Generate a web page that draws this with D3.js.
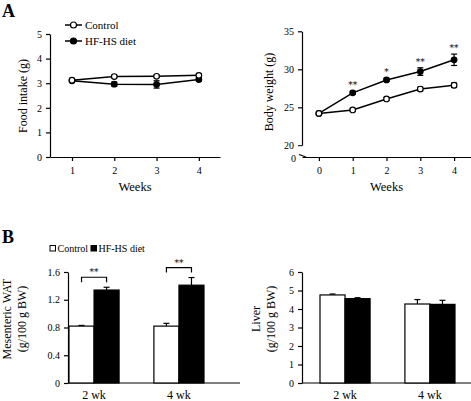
<!DOCTYPE html>
<html>
<head>
<meta charset="utf-8">
<script src="https://cdn.jsdelivr.net/npm/d3@7"></script>
<style>
  body { margin: 0; background: #fff; }
  svg { display: block; }
  svg text { font-family: "Liberation Serif", "Times New Roman", serif; fill: #000; }
  .tick text { font-size: 10px; }
  .axis path, .axis line { stroke: #000; stroke-width: 1.2; }
  svg text.star { font-family: "DejaVu Serif", serif; font-variant-emoji: text; fill: #000; }
</style>
</head>
<body>
<div class="chart"></div>
<script>
// Data
let foodWeeks = [1, 2, 3, 4];
let foodControl = [3.12, 3.27, 3.28, 3.32];
let foodControlErr = [0.06, 0.06, 0.05, 0.07];
let foodHF = [3.1, 2.96, 2.95, 3.15];
let foodHFErr = [0.06, 0.08, 0.15, 0.07];

let bwWeeks = [0, 1, 2, 3, 4];
let bwControl = [24.2, 24.65, 26.1, 27.4, 27.9];
let bwControlErr = [0.2, 0.2, 0.2, 0.25, 0.3];
let bwHF = [24.2, 26.9, 28.6, 29.7, 31.25];
let bwHFErr = [0.2, 0.2, 0.2, 0.5, 0.75];
let bwStars = ["", "**", "*", "**", "**"];

let barGroups = ["2 wk", "4 wk"];
let barSeries = ["Control", "HF-HS diet"];
let watValues = [[0.82, 1.34], [0.82, 1.41]];
let watErr = [[0.01, 0.04], [0.04, 0.11]];
let watStars = ["**", "**"];
let liverValues = [[4.76, 4.56], [4.27, 4.25]];
let liverErr = [[0.05, 0.05], [0.24, 0.22]];

let svgWidth = 471;
let svgHeight = 401;

let svg = d3.select(".chart")
    .append("svg")
    .attr("width", svgWidth)
    .attr("height", svgHeight)
    .attr("font-family", "Liberation Serif, serif");

// panel letters
svg.append("text").attr("x", 2).attr("y", 17)
    .style("font-size", "18px").style("font-weight", "bold").text("A");
svg.append("text").attr("x", 2).attr("y", 243)
    .style("font-size", "18px").style("font-weight", "bold").text("B");

// Draws one line panel with error bars
function linePanel(opts) {
    let g = svg.append("g");
    let x = d3.scaleLinear().domain(opts.xDomain).range(opts.xRange);
    let y = d3.scaleLinear().domain(opts.yDomain).range(opts.yRange);

    g.append("g")
        .attr("class", "axis")
        .attr("transform", `translate(0, ${opts.xAxisY})`)
        .call(d3.axisBottom(x).tickValues(opts.weeks).tickFormat(d3.format("d"))
            .tickSize(4).tickSizeOuter(0).tickPadding(6));

    g.append("g")
        .attr("class", "axis")
        .attr("transform", `translate(${opts.xRange[0]}, 0)`)
        .call(d3.axisLeft(y).tickValues(opts.yTicks).tickFormat(d3.format("d"))
            .tickSize(4).tickSizeOuter(0).tickPadding(4));

    let series = [
        { vals: opts.hf, err: opts.hfErr, fill: "#000" },
        { vals: opts.control, err: opts.controlErr, fill: "#fff" }
    ];

    series.forEach(function(s) {
        let pts = opts.weeks.map((w, i) => ({ w: w, v: s.vals[i], e: s.err[i] }));
        g.append("path")
            .datum(pts)
            .attr("fill", "none")
            .attr("stroke", "#000")
            .attr("stroke-width", 1.5)
            .attr("d", d3.line().x(d => x(d.w)).y(d => y(d.v)));

        let eb = g.append("g").selectAll("g").data(pts).enter().append("g")
            .attr("stroke", "#000").attr("stroke-width", 1.2);
        eb.append("line")
            .attr("x1", d => x(d.w)).attr("x2", d => x(d.w))
            .attr("y1", d => y(d.v - d.e)).attr("y2", d => y(d.v + d.e));
        eb.append("line")
            .attr("x1", d => x(d.w) - 3).attr("x2", d => x(d.w) + 3)
            .attr("y1", d => y(d.v - d.e)).attr("y2", d => y(d.v - d.e));
        eb.append("line")
            .attr("x1", d => x(d.w) - 3).attr("x2", d => x(d.w) + 3)
            .attr("y1", d => y(d.v + d.e)).attr("y2", d => y(d.v + d.e));

        g.append("g").selectAll("circle").data(pts).enter().append("circle")
            .attr("cx", d => x(d.w))
            .attr("cy", d => y(d.v))
            .attr("r", 2.8)
            .attr("fill", s.fill)
            .attr("stroke", "#000")
            .attr("stroke-width", 1.2);
    });

    g.append("text")
        .attr("x", (opts.xRange[0] + opts.xRange[1]) / 2)
        .attr("y", 191)
        .attr("text-anchor", "middle")
        .style("font-size", "12.5px")
        .text("Weeks");

    g.append("text")
        .attr("transform", `translate(${opts.labelX}, ${opts.labelY}) rotate(-90)`)
        .attr("text-anchor", "middle")
        .style("font-size", "12px")
        .text(opts.yLabel);

    return { g: g, x: x, y: y };
}

let food = linePanel({
    weeks: foodWeeks, control: foodControl, controlErr: foodControlErr,
    hf: foodHF, hfErr: foodHFErr,
    xDomain: [0.48, 4.5], xRange: [50, 220],
    yDomain: [0, 5], yRange: [157, 34], yTicks: [0, 1, 2, 3, 4, 5],
    xAxisY: 157, labelX: 27, labelY: 96, yLabel: "Food intake (g)"
});

// Legend for panel A
let legendA = svg.append("g");
barSeries.forEach(function(name, i) {
    let ly = 25 + i * 16;
    legendA.append("line")
        .attr("x1", 65).attr("x2", 82).attr("y1", ly).attr("y2", ly)
        .attr("stroke", "#000").attr("stroke-width", 1.5);
    legendA.append("circle")
        .attr("cx", 73.5).attr("cy", ly).attr("r", 3)
        .attr("fill", i === 0 ? "#fff" : "#000")
        .attr("stroke", "#000").attr("stroke-width", 1.2);
    legendA.append("text")
        .attr("x", 85).attr("y", ly + 4)
        .style("font-size", "11px")
        .text(name);
});

let bw = linePanel({
    weeks: bwWeeks, control: bwControl, controlErr: bwControlErr,
    hf: bwHF, hfErr: bwHFErr,
    xDomain: [-0.5, 4.5], xRange: [302, 471],
    yDomain: [20, 35], yRange: [145.3, 31.3], yTicks: [20, 25, 30, 35],
    xAxisY: 157, labelX: 273, labelY: 92, yLabel: "Body weight  (g)"
});

// hide the y axis segment between 20 and the x axis (axis break)
bw.g.append("rect").attr("x", 298).attr("y", 146.5).attr("width", 6).attr("height", 9.5).attr("fill", "#fff");
bw.g.append("line")
    .attr("x1", 299).attr("x2", 306).attr("y1", 154.5).attr("y2", 157)
    .attr("stroke", "#000").attr("stroke-width", 1.2);
bw.g.append("text")
    .attr("x", 296).attr("y", 162)
    .attr("text-anchor", "end")
    .style("font-size", "10px")
    .text("0");

// significance stars on body weight
bw.g.append("g").selectAll("text").data(bwWeeks).enter().append("text")
    .attr("class", "star")
    .attr("x", d => bw.x(d))
    .attr("y", (d, i) => bw.y(bwHF[i] + bwHFErr[i]) - 3)
    .attr("text-anchor", "middle")
    .style("font-size", "9px")
    .text((d, i) => bwStars[i]);

// Draws one bar panel
function barPanel(opts) {
    let g = svg.append("g");
    let x0 = d3.scaleBand().domain(barGroups).range(opts.barRange).paddingInner(0.41).paddingOuter(0);
    let x1 = d3.scaleBand().domain(barSeries).range([0, x0.bandwidth()]);
    let y = d3.scaleLinear().domain(opts.yDomain).range([383, 272]);

    g.append("g")
        .attr("class", "axis")
        .attr("transform", `translate(${opts.axisX}, 0)`)
        .call(d3.axisLeft(y).tickValues(opts.yTicks).tickFormat(opts.fmt).tickSize(4).tickSizeOuter(0).tickPadding(4));

    g.append("line")
        .attr("x1", opts.axisX).attr("x2", opts.axisEnd)
        .attr("y1", 383).attr("y2", 383)
        .attr("stroke", "#000").attr("stroke-width", 1.2);

    let cells = [];
    barGroups.forEach(function(grp, gi) {
        barSeries.forEach(function(s, si) {
            cells.push({ grp: grp, s: s, si: si, v: opts.values[gi][si], e: opts.err[gi][si] });
        });
    });

    // error bars (upper only)
    let eb = g.append("g").selectAll("g").data(cells).enter().append("g")
        .attr("stroke", "#000").attr("stroke-width", 1.2);
    eb.append("line")
        .attr("x1", d => x0(d.grp) + x1(d.s) + x1.bandwidth() / 2)
        .attr("x2", d => x0(d.grp) + x1(d.s) + x1.bandwidth() / 2)
        .attr("y1", d => y(d.v)).attr("y2", d => y(d.v + d.e));
    eb.append("line")
        .attr("x1", d => x0(d.grp) + x1(d.s) + x1.bandwidth() / 2 - 3)
        .attr("x2", d => x0(d.grp) + x1(d.s) + x1.bandwidth() / 2 + 3)
        .attr("y1", d => y(d.v + d.e)).attr("y2", d => y(d.v + d.e));

    g.append("g").selectAll("rect").data(cells).enter().append("rect")
        .attr("x", d => x0(d.grp) + x1(d.s))
        .attr("y", d => y(d.v))
        .attr("width", x1.bandwidth())
        .attr("height", d => 383 - y(d.v))
        .attr("fill", d => d.si === 0 ? "#fff" : "#000")
        .attr("stroke", "#000")
        .attr("stroke-width", 1.2);

    g.append("g").selectAll("text").data(barGroups).enter().append("text")
        .attr("x", d => x0(d) + x0.bandwidth() / 2)
        .attr("y", 399)
        .attr("text-anchor", "middle")
        .style("font-size", "12px")
        .text(d => d);

    let midY = 319;
    opts.yLabel.forEach(function(line, i) {
        g.append("text")
            .attr("transform", `translate(${opts.labelX + i * 15}, ${midY}) rotate(-90)`)
            .attr("text-anchor", "middle")
            .style("font-size", "12px")
            .text(line);
    });

    return { g: g, x0: x0, x1: x1, y: y };
}

let wat = barPanel({
    values: watValues, err: watErr,
    barRange: [69, 204], axisX: 68, axisEnd: 240,
    yDomain: [0, 1.6], yTicks: [0, 0.4, 0.8, 1.2, 1.6],
    fmt: d => d === 0 ? "0" : d3.format(".1f")(d),
    labelX: 11, yLabel: ["Mesenteric  WAT", "(g/100  g  BW)"]
});

// significance brackets on WAT
barGroups.forEach(function(grp, gi) {
    let top = d3.max(watValues[gi].map((v, si) => v + watErr[gi][si]));
    let by = wat.y(top) - 10;
    let xa = wat.x0(grp) + wat.x1(barSeries[0]) + wat.x1.bandwidth() / 2;
    let xb = wat.x0(grp) + wat.x1(barSeries[1]) + wat.x1.bandwidth() / 2;
    wat.g.append("path")
        .attr("d", `M${xa},${by + 5}V${by}H${xb}V${by + 5}`)
        .attr("fill", "none")
        .attr("stroke", "#000")
        .attr("stroke-width", 1.2);
    wat.g.append("text")
        .attr("class", "star")
        .attr("x", (xa + xb) / 2)
        .attr("y", by - 2)
        .attr("text-anchor", "middle")
        .style("font-size", "9px")
        .text(watStars[gi]);
});

// Legend for panel B
let legendB = svg.append("g");
let legendBx = [50, 91];
barSeries.forEach(function(name, i) {
    legendB.append("rect")
        .attr("x", legendBx[i]).attr("y", 245.5)
        .attr("width", 5.5).attr("height", 5.5)
        .attr("fill", i === 0 ? "#fff" : "#000")
        .attr("stroke", "#000").attr("stroke-width", 1);
    legendB.append("text")
        .attr("x", legendBx[i] + 7.5).attr("y", 252)
        .style("font-size", "10px")
        .text(name);
});

let liver = barPanel({
    values: liverValues, err: liverErr,
    barRange: [320, 455], axisX: 302, axisEnd: 471,
    yDomain: [0, 6], yTicks: [0, 1, 2, 3, 4, 5, 6],
    fmt: d3.format("d"),
    labelX: 260, yLabel: ["Liver", "(g/100  g  BW)"]
});
</script>
</body>
</html>
